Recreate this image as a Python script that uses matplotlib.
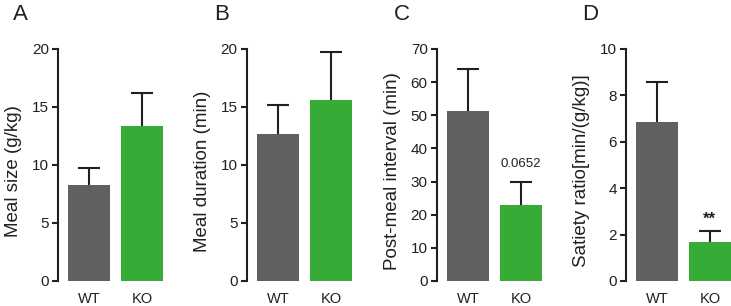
import matplotlib
matplotlib.use("Agg")
import matplotlib.pyplot as plt
import numpy as np

plt.rcParams['font.family'] = ['Liberation Sans', 'DejaVu Sans']

groups = ["WT", "KO"]
panel_letters = ["A", "B", "C", "D"]
ylabels = ["Meal size (g/kg)", "Meal duration (min)",
           "Post-meal interval (min)", "Satiety ratio[min/(g/kg)]"]
ymax = [20, 20, 70, 10]
ysteps = [5, 5, 10, 2]

meal_size = [8.3, 13.4]
meal_size_err = [1.4, 2.8]
meal_duration = [12.7, 15.6]
meal_duration_err = [2.5, 4.1]
post_meal = [51.3, 23.0]
post_meal_err = [12.6, 7.0]
satiety = [6.87, 1.67]
satiety_err = [1.69, 0.49]

means = [meal_size, meal_duration, post_meal, satiety]
errs = [meal_size_err, meal_duration_err, post_meal_err, satiety_err]
notes = [None, None, "0.0652", "**"]

gray = "#606060"
green = "#36ac37"
dark = "#231f20"

W, H = 731, 306
fig = plt.figure(figsize=(W / 100, H / 100), dpi=100)

spine_px = [58, 246.7, 436.7, 626]
letter_px = [13, 214, 394, 582]
top_px, bot_px = 49, 281
ax_w = 105

for i in range(4):
    ax = fig.add_axes([spine_px[i] / W, (H - bot_px) / H, ax_w / W, (bot_px - top_px) / H])
    x = np.arange(len(groups))
    ax.bar(x, means[i], width=0.79, color=[gray, green], zorder=2)
    eb = ax.errorbar(x, means[i], yerr=[np.zeros(2), errs[i]], fmt='none', ecolor=dark,
                     elinewidth=1.5, capsize=7.9, capthick=1.5, zorder=1)
    # hide the cap sitting on the bar top, keep only the upper cap
    for cap in eb[1]:
        if np.allclose(cap.get_ydata(), means[i]):
            cap.set_visible(False)
    ax.set_xlim(-0.59, 1.39)
    ax.set_ylim(0, ymax[i])
    ax.set_yticks(np.arange(0, ymax[i] + 0.1, ysteps[i]))
    ax.set_xticks(x)
    ax.set_xticklabels(groups)
    for s in ["top", "right", "bottom"]:
        ax.spines[s].set_visible(False)
    ax.spines["left"].set_linewidth(1.5)
    ax.spines["left"].set_color(dark)
    ax.tick_params(axis='y', direction='out', length=4.5, width=1.5, color=dark,
                   labelsize=11, labelcolor=dark, pad=2)
    ax.tick_params(axis='x', length=0, labelsize=10.5, labelcolor=dark, pad=8)
    ax.set_ylabel(ylabels[i], fontsize=13.5, color=dark, labelpad=7)
    ax.yaxis.label.set_y(0.474)
    ax.patch.set_visible(False)

    if notes[i] == "0.0652":
        ax.annotate(notes[i], xy=(1, means[i][1] + errs[i][1]), xytext=(0, 10.3),
                    textcoords='offset points', ha='center', va='baseline',
                    fontsize=9.5, color=dark)
    elif notes[i] == "**":
        ax.annotate(notes[i], xy=(1, means[i][1] + errs[i][1]), xytext=(-1, 4.8),
                    textcoords='offset points', ha='center', va='baseline',
                    fontsize=12, fontweight='bold', color=dark)

    fig.text(letter_px[i] / W, 1 - 4 / H, panel_letters[i], fontsize=16,
             color=dark, ha='left', va='top')

fig.savefig("out.png", dpi=100)
